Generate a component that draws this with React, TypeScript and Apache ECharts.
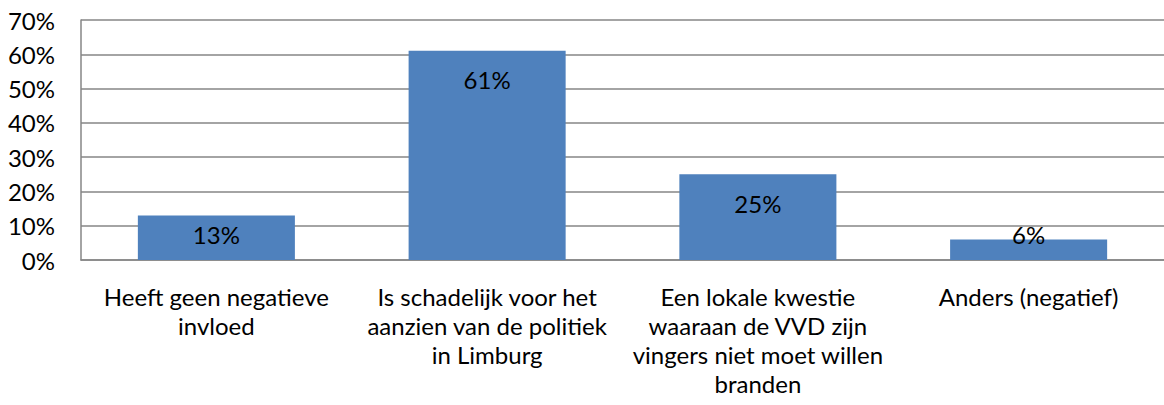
import React, { useEffect, useRef } from "react";
import * as echarts from "echarts";

const categories = [
  "Heeft geen negatieve\ninvloed",
  "Is schadelijk voor het\naanzien van de politiek\nin Limburg",
  "Een lokale kwestie\nwaaraan de VVD zijn\nvingers niet moet willen\nbranden",
  "Anders (negatief)",
];
const values = [13, 61, 25, 6];
const yTicks = [0, 10, 20, 30, 40, 50, 60, 70];

const FONT = "Lato, 'Open Sans', sans-serif";

export default function App() {
  const ref = useRef<HTMLDivElement>(null);
  useEffect(() => {
    if (!ref.current) return;
    const chart = echarts.init(ref.current, undefined, { renderer: "svg" });
    chart.setOption({
      animation: false,
      backgroundColor: "#ffffff",
      grid: { left: 81, right: 0, top: 20, bottom: 145, containLabel: false },
      xAxis: {
        type: "category",
        data: categories,
        axisLine: { show: true, lineStyle: { color: "#868686", width: 1.5 } },
        axisTick: { show: false },
        axisLabel: {
          interval: 0,
          color: "#000",
          fontFamily: FONT,
          fontSize: 24,
          lineHeight: 29,
          margin: 22,
          align: "center",
        },
      },
      yAxis: {
        type: "value",
        min: yTicks[0],
        max: yTicks[yTicks.length - 1],
        interval: 10,
        axisLine: { show: true, lineStyle: { color: "#868686", width: 1.5 } },
        axisTick: { show: false },
        splitLine: { show: true, lineStyle: { color: "#868686", width: 1.5 } },
        axisLabel: {
          color: "#000",
          fontFamily: FONT,
          fontSize: 24,
          margin: 26,
          formatter: (v: number) => v + "%",
        },
      },
      series: [
        {
          type: "bar",
          data: values.map((v) => ({
            value: v,
            label:
              v < 15
                ? { position: "insideBottom", distance: 14 }
                : { position: "insideTop", distance: 17 },
          })),
          barCategoryGap: "42%",
          itemStyle: { color: "#4F81BD" },
          label: {
            show: true,
            color: "#000",
            fontFamily: FONT,
            fontSize: 24,
            lineHeight: 24,
            formatter: (p: any) => p.value + "%",
          },
        },
      ],
    });
    return () => chart.dispose();
  }, []);
  return (
    <div
      ref={ref}
      style={{ position: "fixed", left: 0, top: 0, width: 1164, height: 405 }}
    />
  );
}
